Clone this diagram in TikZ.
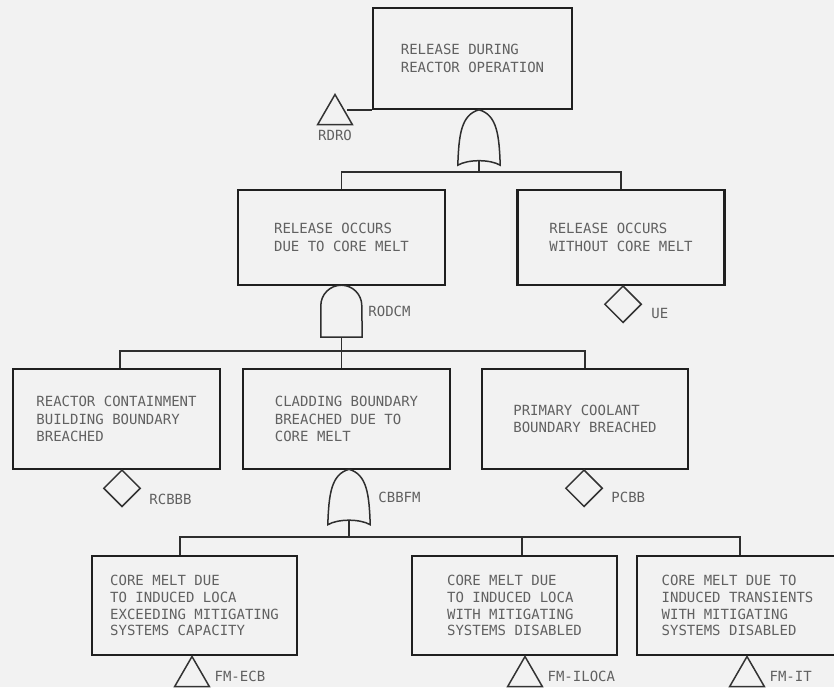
\documentclass[tikz,border=0pt]{standalone}
\usepackage{fontspec}
\newfontfamily\scanfont{DejaVu Sans Mono}
\usetikzlibrary{
    positioning,
    shapes.geometric,
    calc
}

\begin{document}
\begin{tikzpicture}[
    x=1pt, y=-1pt,
    event/.style={rectangle, draw=black!88, line width=2.6pt, text=black!62, align=left, inner sep=0pt, font=\scanfont\fontsize{14}{17.5}\selectfont},
    topevent/.style={event, minimum width=199pt, minimum height=101pt},
    midevent/.style={event, minimum width=207pt, minimum height=95pt},
    rowevent/.style={event, minimum width=206pt, minimum height=100pt},
    lowevent/.style={event, minimum width=205pt, minimum height=99pt, font=\scanfont\fontsize{14}{16.8}\selectfont},
    orgate/.style={rectangle, minimum width=42pt, minimum height=55pt, inner sep=0pt},
    andgate/.style={rectangle, minimum width=41pt, minimum height=52pt, inner sep=0pt},
    basic/.style={diamond, draw=black!80, line width=1.5pt, minimum width=37pt, minimum height=37pt, inner sep=0pt},
    transfer/.style={regular polygon, regular polygon sides=3, draw=black!80, line width=1.5pt, minimum size=40pt, inner sep=0pt},
    tag/.style={font=\scanfont\fontsize{14}{16}\selectfont, text=black!62, inner sep=0pt},
    gateline/.style={draw=black!82, line width=1.5pt},
    wire/.style={draw=black!82, line width=1.6pt}
]
\path[use as bounding box, fill=black!5] (0,0) rectangle (834,687);

% Top event
\node[topevent] (top) at (472.5,58.5) {RELEASE DURING\\REACTOR OPERATION};
\node[transfer, anchor=north] (rdro) at (335,93) {};
\node[tag, below=5pt of rdro] (rdro-lbl) {RDRO};
\draw[wire] (rdro.east |- top.south west) -- (top.south west);
\node[orgate] (or1) at (479,137.5) {};
\draw[gateline] (or1.south west) .. controls +(1,-30) and +(-18,5) .. (or1.north)
    .. controls +(18,5) and +(-1,-30) .. (or1.south east)
    .. controls +(-10,-6) and +(10,-6) .. cycle;

% Second level
\node[midevent] (rel-cm) at (341.5,237.5) {RELEASE OCCURS\\DUE TO CORE MELT};
\node[midevent] (rel-ncm) at (621,237.5) {RELEASE OCCURS\\WITHOUT CORE MELT};
\node[basic, anchor=north] (ue) at (623,285) {};
\node[tag, right=9pt of ue, yshift=-9pt] (ue-lbl) {UE};
\node[andgate] (and1) at (341.5,311) {};
\draw[gateline] (and1.south west) -- ++(0,-31.5) arc[start angle=180, end angle=0, radius=20.5pt]
    -- (and1.south east) -- cycle;
\node[tag, right=6pt of and1] (and1-lbl) {RODCM};

% Third level
\node[rowevent, minimum width=207pt] (rcb) at (116.5,419) {REACTOR CONTAINMENT\\BUILDING BOUNDARY\\BREACHED};
\node[rowevent, minimum width=207pt] (cbb) at (346.5,419) {CLADDING BOUNDARY\\BREACHED DUE TO\\CORE MELT};
\node[rowevent] (pcb) at (585,419) {PRIMARY COOLANT\\BOUNDARY BREACHED};
\node[basic, anchor=north] (rcbbb) at (122,469) {};
\node[tag, right=8pt of rcbbb, yshift=-11pt] (rcbbb-lbl) {RCBBB};
\node[basic, anchor=north] (pcbb) at (584,469) {};
\node[tag, right=8pt of pcbb, yshift=-9pt] (pcbb-lbl) {PCBB};
\node[orgate] (or2) at (349,497) {};
\draw[gateline] (or2.south west) .. controls +(1,-30) and +(-18,5) .. (or2.north)
    .. controls +(18,5) and +(-1,-30) .. (or2.south east)
    .. controls +(-10,-6) and +(10,-6) .. cycle;
\node[tag, right=8pt of or2] (or2-lbl) {CBBFM};

% Bottom level
\node[lowevent] (cm-loca) at (194.5,605.5) {CORE MELT DUE\\TO INDUCED LOCA\\EXCEEDING MITIGATING\\SYSTEMS CAPACITY};
\node[lowevent] (cm-dis) at (514.5,605.5) {CORE MELT DUE\\TO INDUCED LOCA\\WITH MITIGATING\\SYSTEMS DISABLED};
\node[lowevent, minimum width=201pt] (cm-tr) at (737.5,605.5) {CORE MELT DUE TO\\INDUCED TRANSIENTS\\WITH MITIGATING\\SYSTEMS DISABLED};
\node[transfer, anchor=north] (fm-ecb) at (192,655) {};
\node[tag, right=10pt of fm-ecb] (fm-ecb-lbl) {FM-ECB};
\node[transfer, anchor=north] (fm-iloca) at (525,655) {};
\node[tag, right=10pt of fm-iloca] (fm-iloca-lbl) {FM-ILOCA};
\node[transfer, anchor=north] (fm-it) at (747,655) {};
\node[tag, right=10pt of fm-it] (fm-it-lbl) {FM-IT};

% Connectors
\draw[wire] ($(or1.south)+(0,-4)$) -- ++(0,11) coordinate (bus1);
\draw[wire] (rel-cm.north) |- (bus1) -| (rel-ncm.north);
\draw[wire] (and1.south) -- ++(0,14) coordinate (bus2);
\draw[wire] ([xshift=3.5pt]rcb.north) |- (bus2) -| (pcb.north);
\draw[wire] (bus2) -- (bus2 |- cbb.north);
\draw[wire] ($(or2.south)+(0,-4)$) -- ++(0,16.5) coordinate (bus3);
\draw[wire] ([xshift=-14.5pt]cm-loca.north) |- (bus3) -| ([xshift=7.5pt]cm-dis.north);
\draw[wire] (bus3) -| ([xshift=2.5pt]cm-tr.north);
\end{tikzpicture}
\end{document}
